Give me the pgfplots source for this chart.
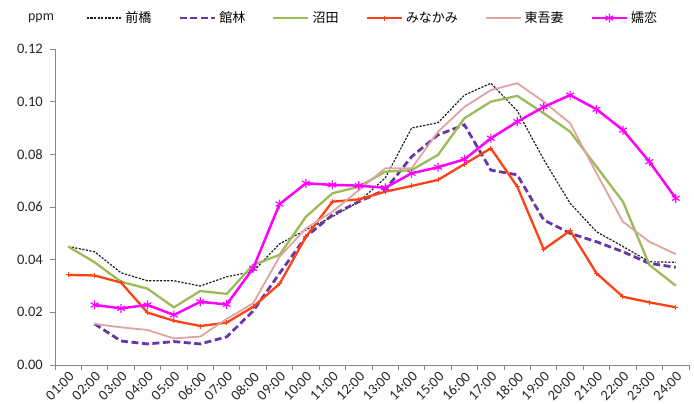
\documentclass[border=0pt]{standalone}
\usepackage{pgfplots}
\pgfplotsset{compat=1.18}
\usepackage{fontspec}
\setmainfont{Carlito}
\newfontfamily\jp{Noto Sans CJK JP}
\definecolor{cMae}{RGB}{30,30,30}
\definecolor{cTate}{RGB}{105,55,165}
\definecolor{cNuma}{RGB}{155,187,89}
\definecolor{cMina}{RGB}{255,65,20}
\definecolor{cHiga}{RGB}{222,165,160}
\definecolor{cTsuma}{RGB}{255,0,255}
\definecolor{cAxis}{RGB}{134,134,134}
\begin{document}
\begin{tikzpicture}
\fontsize{14bp}{16bp}\selectfont
\begin{axis}[
  scale only axis,
  width=634bp, height=316bp,
  xmin=0.5, xmax=24.5,
  ymin=0, ymax=0.12,
  axis x line*=bottom, axis y line*=left,
  axis line style={cAxis, line width=0.9bp},
  xtick={1,...,24},
  xticklabels={01:00,02:00,03:00,04:00,05:00,06:00,07:00,08:00,09:00,10:00,11:00,12:00,13:00,14:00,15:00,16:00,17:00,18:00,19:00,20:00,21:00,22:00,23:00,24:00},
  minor xtick={0.5,1.5,...,24.5},
  major x tick style={draw=none},
  minor x tick style={cAxis, line width=0.9bp},
  minor tick length=5bp,
  ytick={0,0.02,...,0.121},
  major tick length=5bp,
  y tick style={cAxis, line width=0.9bp},
  tick align=outside,
  yticklabel style={/pgf/number format/.cd, fixed, fixed zerofill, precision=2, /tikz/.cd, font=\fontsize{14.5bp}{16bp}\selectfont, color=black!85, inner sep=1bp, xshift=-6bp},
  scaled y ticks=false,
  /pgf/number format/assume math mode=true,
  xticklabel style={rotate=45, anchor=north east, inner sep=0.5bp, font=\fontsize{14.5bp}{16bp}\selectfont, color=black!85},
  legend columns=6,
  legend style={at={(axis description cs:0.049,1.098)}, anchor=west, draw=none, fill=none, inner xsep=0pt, inner ysep=0pt,
    nodes={inner sep=1bp}, font=\fontsize{13bp}{15bp}\selectfont\jp,
    /tikz/every odd column/.append style={column sep=2bp},
    /tikz/every even column/.append style={column sep=26bp}},
  legend image code/.code={\draw[mark repeat=2,mark phase=2] plot coordinates {(0bp,0bp)(17.5bp,0bp)(35bp,0bp)};},
]
% 前橋
\addplot[cMae, line width=1.2bp, dash pattern=on 2.2bp off 1.4bp] coordinates {
(1,0.045)(2,0.043)(3,0.035)(4,0.032)(5,0.032)(6,0.030)(7,0.0335)(8,0.0355)(9,0.046)(10,0.0513)(11,0.0563)(12,0.062)
(13,0.071)(14,0.090)(15,0.092)(16,0.1025)(17,0.107)(18,0.0965)(19,0.078)(20,0.0614)(21,0.0506)(22,0.045)(23,0.0392)(24,0.039)};
\addlegendentry{前橋}
% 館林
\addplot[cTate, line width=2.8bp, dash pattern=on 7bp off 3.5bp] coordinates {
(2,0.0156)(3,0.0091)(4,0.008)(5,0.0089)(6,0.008)(7,0.0107)(8,0.0205)(9,0.0348)(10,0.0487)(11,0.057)(12,0.062)
(13,0.0665)(14,0.0791)(15,0.0874)(16,0.0912)(17,0.074)(18,0.0722)(19,0.0551)(20,0.050)(21,0.0468)(22,0.043)(23,0.0386)(24,0.0371)};
\addlegendentry{館林}
% 沼田
\addplot[cNuma, line width=2.3bp] coordinates {
(1,0.045)(2,0.039)(3,0.0316)(4,0.029)(5,0.0219)(6,0.0281)(7,0.027)(8,0.038)(9,0.0418)(10,0.0563)(11,0.0652)(12,0.0677)
(13,0.0734)(14,0.074)(15,0.0798)(16,0.0937)(17,0.100)(18,0.1022)(19,0.0956)(20,0.0886)(21,0.0753)(22,0.062)(23,0.038)(24,0.0301)};
\addlegendentry{沼田}
% みなかみ
\addplot[cMina, line width=2.3bp, mark=+, mark size=2.5bp, mark options={line width=1bp}] coordinates {
(1,0.0342)(2,0.034)(3,0.0313)(4,0.0199)(5,0.0168)(6,0.0148)(7,0.0161)(8,0.0221)(9,0.0308)(10,0.0487)(11,0.062)(12,0.0629)
(13,0.0658)(14,0.068)(15,0.0703)(16,0.0763)(17,0.0823)(18,0.0677)(19,0.0439)(20,0.051)(21,0.0348)(22,0.0259)(23,0.0238)(24,0.0219)};
\addlegendentry{みなかみ}
% 東吾妻
\addplot[cHiga, line width=1.8bp] coordinates {
(2,0.0156)(3,0.0143)(4,0.0133)(5,0.0101)(6,0.0108)(7,0.0175)(8,0.0234)(9,0.0411)(10,0.0519)(11,0.0582)(12,0.0664)
(13,0.0747)(14,0.0747)(15,0.0886)(16,0.098)(17,0.1044)(18,0.107)(19,0.100)(20,0.0918)(21,0.0728)(22,0.0544)(23,0.0468)(24,0.0421)};
\addlegendentry{東吾妻}
% 嬬恋
\addplot[cTsuma, line width=2.5bp, mark=asterisk, mark size=4.5bp, mark options={line width=1.2bp}] coordinates {
(2,0.0228)(3,0.0215)(4,0.0228)(5,0.019)(6,0.024)(7,0.023)(8,0.0367)(9,0.0611)(10,0.069)(11,0.0684)(12,0.0681)
(13,0.0673)(14,0.0728)(15,0.0751)(16,0.0781)(17,0.0861)(18,0.0924)(19,0.098)(20,0.1025)(21,0.0971)(22,0.0892)(23,0.0772)(24,0.0633)};
\addlegendentry{嬬恋}
\end{axis}
\node[inner sep=0pt, color=black!85] at (-14bp,347bp) {ppm};
\path[use as bounding box] (-55bp,-39bp) rectangle (639bp,365bp);
\end{tikzpicture}
\end{document}
